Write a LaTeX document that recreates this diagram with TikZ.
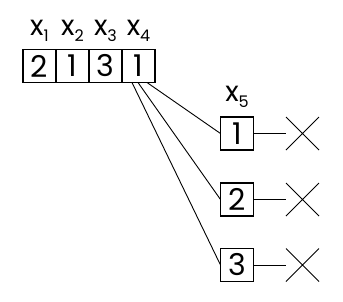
\documentclass[tikz,border=0pt]{standalone}
\usepackage{fontspec}
\setmainfont{Poppins}
\usetikzlibrary{positioning, shapes.misc}

\newcommand{\varlabel}[1]{x\raisebox{-6pt}{\fontsize{16}{16}\selectfont #1}}

\begin{document}
\begin{tikzpicture}[x=1pt, y=-1pt,
    cell/.style={draw, line width=1.2pt, minimum size=33pt, inner sep=0pt, outer sep=0pt, font=\fontsize{30}{30}\selectfont},
    var/.style={inner sep=0pt, anchor=base, font=\fontsize{28}{28}\selectfont},
    xmark/.style={cross out, draw, line width=0.9pt, minimum size=33pt, inner sep=0pt, outer sep=0pt},
    link/.style={line width=0.9pt},
    node distance=0pt
]
\useasboundingbox (0,0) rectangle (343,301);
% the assigned variables
\node[cell] (a1) at (39.5,66) {2};
\node[cell, right=of a1] (a2) {1};
\node[cell, right=of a2] (a3) {3};
\node[cell, right=of a3] (a4) {1};
\foreach \i in {1,...,4}
  \node[var] (l\i) at ([yshift=14pt]a\i.north) {\varlabel{\i}};
% the choices for x5
\node[cell] (b1) at (237,133.5) {1};
\node[cell] (b2) at (237,199.5) {2};
\node[cell] (b3) at (237,265) {3};
\node[var] (l5) at ([yshift=16pt]b1.north) {\varlabel{5}};
\foreach \i in {1,2,3} {
  \node[xmark, right=32.5pt of b\i] (c\i) {};
  \draw[link] (b\i) -- (c\i.west);
}
\draw[link] ([xshift=8.5pt]a4.south) -- (b1.west);
\draw[link] ([xshift=-0.5pt]a4.south) -- (b2.west);
\draw[link] ([xshift=-6.5pt]a4.south) -- (b3.west);
\end{tikzpicture}
\end{document}
